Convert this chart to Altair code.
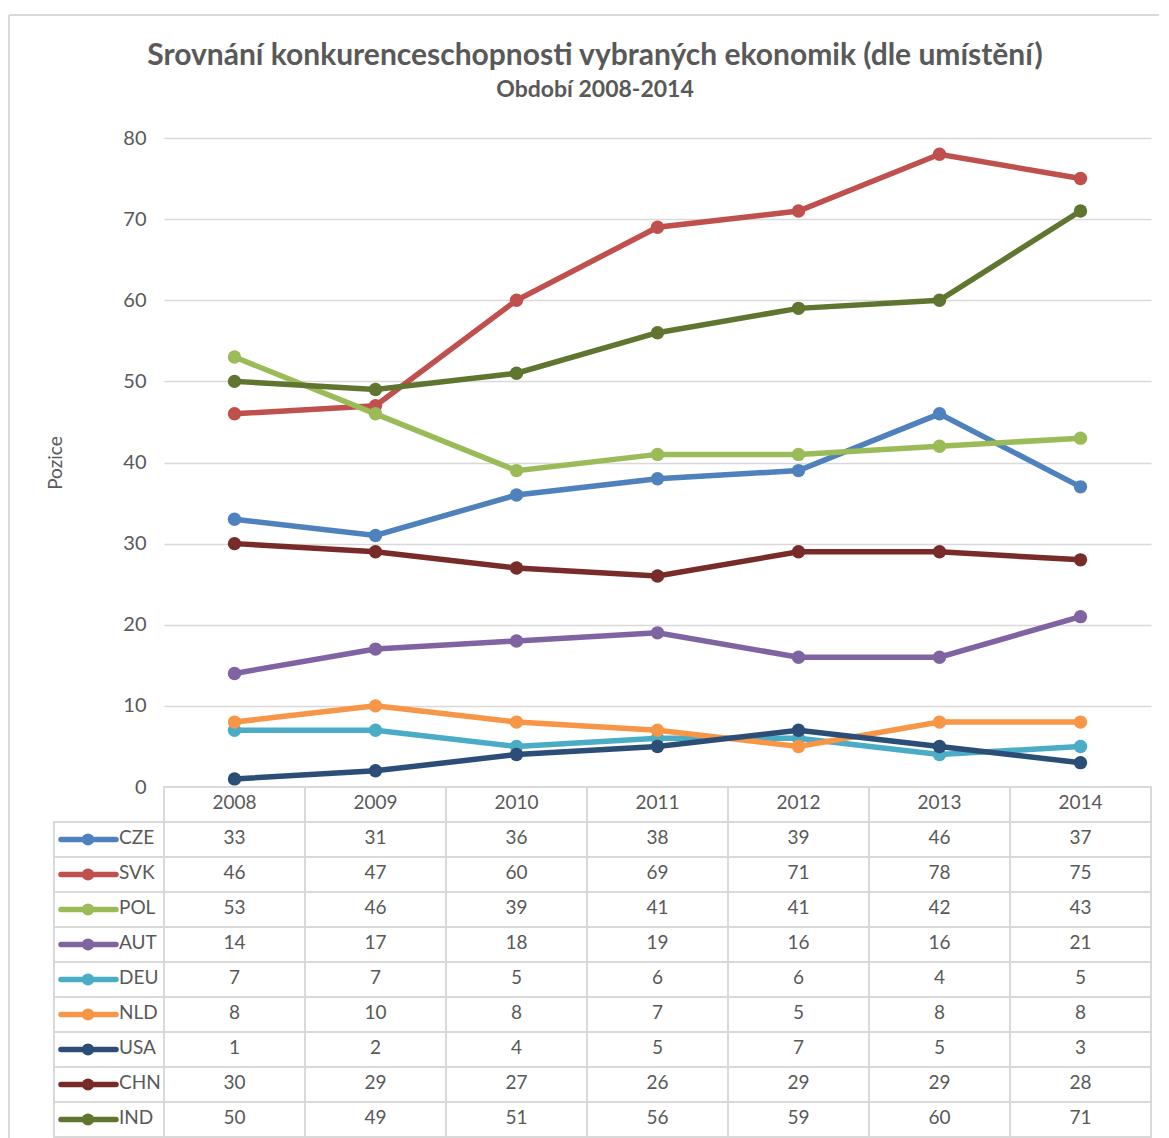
import altair as alt
import pandas as pd

years = ["2008", "2009", "2010", "2011", "2012", "2013", "2014"]
countries = ["CZE", "SVK", "POL", "AUT", "DEU", "NLD", "USA", "CHN", "IND"]
CZE = [33, 31, 36, 38, 39, 46, 37]
SVK = [46, 47, 60, 69, 71, 78, 75]
POL = [53, 46, 39, 41, 41, 42, 43]
AUT = [14, 17, 18, 19, 16, 16, 21]
DEU = [7, 7, 5, 6, 6, 4, 5]
NLD = [8, 10, 8, 7, 5, 8, 8]
USA = [1, 2, 4, 5, 7, 5, 3]
CHN = [30, 29, 27, 26, 29, 29, 28]
IND = [50, 49, 51, 56, 59, 60, 71]
series = [CZE, SVK, POL, AUT, DEU, NLD, USA, CHN, IND]
colors = ["#4F81BD", "#C0504D", "#9BBB59", "#8064A2", "#4BACC6",
          "#F79646", "#2C4D75", "#772C2A", "#5F7530"]

FONT = "Lato"
GRAY = "#595959"
LINE = "#d9d9d9"
W = 987
H = 649
TH = 350

rows = []
for c, vals in zip(countries, series):
    for y, v in zip(years, vals):
        rows.append({"country": c, "year": y, "value": v})
df = pd.DataFrame(rows)

color_scale = alt.Scale(domain=countries, range=colors)
xs = alt.Scale(domain=years, type="point", padding=0.5)

# outer chart-area frame (left and top edges)
frame_df = pd.DataFrame({"k": [0]})
frame_left = alt.Chart(frame_df).mark_rule(color=LINE, strokeWidth=2).encode(
    x=alt.value(-155), y=alt.value(-123), y2=alt.value(H + TH + 2))
frame_top = alt.Chart(frame_df).mark_rule(color=LINE, strokeWidth=2).encode(
    x=alt.value(-155), x2=alt.value(W + 8), y=alt.value(-123))

layers = [frame_left, frame_top]
for c in countries:
    sub = df[df.country == c]
    base = alt.Chart(sub).encode(
        x=alt.X("year:O", scale=xs, axis=None),
        y=alt.Y("value:Q", scale=alt.Scale(domain=[0, 80], nice=False),
                axis=alt.Axis(values=list(range(0, 81, 10)), title="Pozice",
                              grid=True, gridColor=LINE, gridWidth=1.5,
                              domain=False, ticks=False, labelPadding=18,
                              labelFontSize=20, labelColor=GRAY, labelFont=FONT,
                              titleFontSize=19, titleColor=GRAY, titleFont=FONT,
                              titleFontWeight="normal", titlePadding=57)),
        color=alt.Color("country:N", scale=color_scale, legend=None),
    )
    layers.append(base.mark_line(strokeWidth=5.5))
    layers.append(base.mark_point(filled=True, size=180, opacity=1))

top = alt.layer(*layers).properties(width=W, height=H)

# data table below the plot
row_keys = ["hdr"] + countries
cells = []
for y in years:
    cells.append({"row": "hdr", "year": y, "label": y})
for c, vals in zip(countries, series):
    for y, v in zip(years, vals):
        cells.append({"row": c, "year": y, "label": str(v)})
cdf = pd.DataFrame(cells)
legdf = pd.DataFrame({"row": countries, "country": countries})

tx = alt.X("year:O", scale=alt.Scale(domain=years, type="band", paddingInner=0, paddingOuter=0), axis=None)
ty = alt.Y("row:N", scale=alt.Scale(domain=row_keys, type="band", paddingInner=0, paddingOuter=0), axis=None)

cell_rect = alt.Chart(cdf).mark_rect(fill="white", stroke=LINE, strokeWidth=2).encode(x=tx, y=ty)
cell_text = alt.Chart(cdf).mark_text(font=FONT, fontSize=19, color=GRAY, dy=-2).encode(x=tx, y=ty, text="label:N")
leg_rect = alt.Chart(legdf).mark_rect(fill="white", stroke=LINE, strokeWidth=2).encode(
    x=alt.value(-110), x2=alt.value(0), y=ty)
leg_rule = alt.Chart(legdf).mark_rule(strokeWidth=5.5, strokeCap="round").encode(
    x=alt.value(-103), x2=alt.value(-48), y=ty,
    color=alt.Color("country:N", scale=color_scale, legend=None))
leg_pt = alt.Chart(legdf).mark_point(filled=True, size=150, opacity=1).encode(
    x=alt.value(-76), y=ty,
    color=alt.Color("country:N", scale=color_scale, legend=None))
leg_text = alt.Chart(legdf).mark_text(font=FONT, fontSize=19, color=GRAY, align="left", dy=-2).encode(
    x=alt.value(-45), y=ty, text="country:N")

table = alt.layer(cell_rect, leg_rect, cell_text, leg_rule, leg_pt, leg_text).properties(width=W, height=TH)

chart = alt.vconcat(top, table, spacing=0, bounds="flush").properties(
    title=alt.TitleParams(
        text="Srovnání konkurenceschopnosti vybraných ekonomik (dle umístění)",
        subtitle="Období 2008-2014",
        anchor="middle", font=FONT, fontSize=30, fontWeight="bold", color=GRAY,
        subtitleFont=FONT, subtitleFontSize=23, subtitleFontWeight="bold",
        subtitleColor=GRAY, subtitlePadding=8, offset=-88, dx=11),
    padding={"left": 0, "top": 6, "right": 0, "bottom": 0},
).configure_view(stroke=None)

chart.save("out.html", embed_options={"renderer": "svg", "actions": False})
